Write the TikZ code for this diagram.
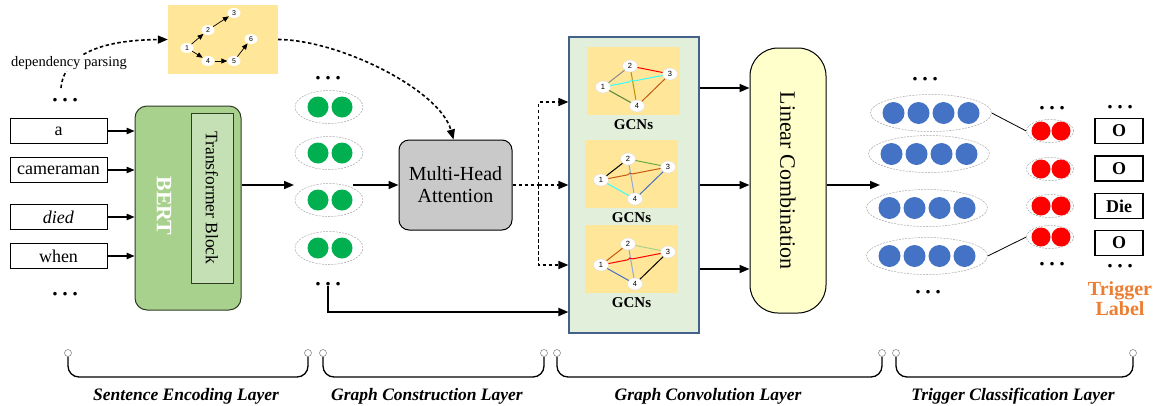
\documentclass[tikz,border=0pt]{standalone}
\usepackage{fontspec}
\setmainfont{Liberation Serif}
\newfontfamily\sansf{Liberation Sans}
\usetikzlibrary{arrows.meta,shapes.geometric,calc}

\newcommand{\setfs}[1]{\fontsize{#1}{#1}\selectfont}

\definecolor{depbg}{HTML}{FFE699}
\definecolor{bertfill}{HTML}{A9D18E}
\definecolor{tbfill}{HTML}{C5E0B4}
\definecolor{bertline}{HTML}{2E3B25}
\definecolor{mhafill}{HTML}{C9C9C9}
\definecolor{gcnfill}{HTML}{E2EFDA}
\definecolor{gcnline}{HTML}{44618C}
\definecolor{lcfill}{HTML}{FFFFCC}
\definecolor{dotgreen}{HTML}{00B050}
\definecolor{dotblue}{HTML}{4472C4}
\definecolor{dotred}{HTML}{FF0000}
\definecolor{trigorange}{HTML}{ED7D31}
\definecolor{egray}{HTML}{A6A6A6}
\definecolor{cgray}{HTML}{8C8C8C}
\definecolor{cmid}{HTML}{8C8C8C}
\definecolor{ccyan}{HTML}{33FFFF}
\definecolor{cgold}{HTML}{BF9000}
\definecolor{cdgreen}{HTML}{548235}
\definecolor{cbrown}{HTML}{C55A11}
\definecolor{clgreen}{HTML}{70AD47}
\definecolor{cpale}{HTML}{A9D18E}
\definecolor{clblue}{HTML}{8FAADC}
\definecolor{cblue}{HTML}{4472C4}

\tikzset{
 wordbox/.style={draw, line width=0.9pt, minimum width=97pt, minimum height=25pt, inner sep=0pt, font=\setfs{18}},
 arr/.style={line width=1.7pt, -{Triangle[length=10pt,width=8pt]}},
 sarr/.style={line width=1.1pt, -{Triangle[length=8pt,width=6.5pt]}},
 dsh/.style={line width=1.6pt, dash pattern=on 3.5pt off 2.5pt},
 dsharr/.style={dsh, -{Triangle[length=10pt,width=8pt]}},
 dotrow/.style={font=\setfs{30}, inner sep=0pt, anchor=base},
 gell/.style={ellipse, draw=egray, line width=0.5pt, dash pattern=on 2pt off 1.2pt, minimum width=68pt, minimum height=33pt, inner sep=0pt},
 gdot/.style={circle, fill=dotgreen, minimum size=21pt, inner sep=0pt},
 bell/.style={gell, minimum width=121pt, minimum height=37pt},
 bdot/.style={circle, fill=dotblue, minimum size=22pt, inner sep=0pt},
 rell/.style={gell, minimum width=47pt, minimum height=23pt},
 rdot/.style={circle, fill=dotred, minimum size=19pt, inner sep=0pt},
 labbox/.style={draw, line width=1.1pt, minimum width=48pt, minimum height=25pt, inner sep=0pt, font=\bfseries\setfs{18}},
 dnode/.style={ellipse, fill=white, minimum width=13pt, minimum height=10pt, inner sep=0pt, font=\sansf\setfs{7}},
 darr/.style={line width=0.7pt, -{Triangle[length=6pt,width=5pt]}},
 gbox/.style={fill=depbg, minimum width=93pt, minimum height=68pt, inner sep=0pt},
 gnode/.style={ellipse, fill=white, draw=white!85!black, line width=0.3pt, minimum width=15pt, minimum height=12pt, inner sep=0pt, font=\sansf\setfs{7.5}},
 gedge/.style={line width=1pt},
 gcnlabel/.style={font=\bfseries\setfs{15}, inner sep=0pt},
 endcirc/.style={circle, draw=cgray, fill=white, line width=0.6pt, minimum size=7pt, inner sep=0pt},
 brace/.style={line width=1.3pt, rounded corners=11pt},
 layertxt/.style={font=\bfseries\itshape\setfs{17.5}, anchor=base, inner sep=0pt},
}

% prefix, shift, c12, c23, c13, c24, c14, c34
\newcommand{\gcngraph}[8]{%
 \begin{scope}[shift={(#2)}]
  \node[gbox] (#1box) at (46.5,34) {};
  \node[gnode] (#1n1) at (16,40) {1};
  \node[gnode] (#1n2) at (43,19) {2};
  \node[gnode] (#1n3) at (83,27) {3};
  \node[gnode] (#1n4) at (50,59) {4};
  \node[gcnlabel] (#1lab) at (46.5,78) {GCNs};
 \end{scope}
 \draw[gedge,#3] (#1n1) -- (#1n2);
 \draw[gedge,#4] (#1n2) -- (#1n3);
 \draw[gedge,#6] (#1n2) -- (#1n4);
 \draw[gedge,#7] (#1n1) -- (#1n4);
 \draw[gedge,#8] (#1n3) -- (#1n4);
 \draw[gedge,#5] (#1n1) -- ($(#1n1)!0.40!(#1n3)$) to[bend left=70] ($(#1n1)!0.47!(#1n3)$) -- (#1n3);
}

\begin{document}
\begin{tikzpicture}[x=1pt,y=-1pt]
\path[fill=white, use as bounding box] (0,0) rectangle (1157,405);

% ---------- dependency graph ----------
\node[fill=depbg, minimum width=110pt, minimum height=69pt, inner sep=0pt] (dep) at (223,39.5) {};
\node[dnode] (d1) at (187,48) {1};
\node[dnode] (d2) at (208,30) {2};
\node[dnode] (d3) at (234,13) {3};
\node[dnode] (d4) at (208,61) {4};
\node[dnode] (d5) at (234,61) {5};
\node[dnode] (d6) at (251,39) {6};
\draw[darr] (d1) -- (d2);
\draw[darr] (d2) -- (d3);
\draw[darr] (d1) -- (d4);
\draw[darr] (d4) -- (d5);
\draw[darr] (d5) -- (d6);

% ---------- words ----------
\node[dotrow] (wtop) at (65,101.5) {…};
\node[wordbox] (w1) at (58.5,131) {a};
\node[wordbox] (w2) at (58.5,170) {cameraman};
\node[wordbox] (w3) at (58.5,217) {\textit{died}};
\node[wordbox] (w4) at (58.5,256) {when};
\node[dotrow] (wbot) at (65,295) {…};

\coordinate (dpstart) at (61,88);
\draw[dsharr] (dpstart) .. controls (64,55) and (100,40) .. (dep.west);
\node[fill=white, inner sep=1pt, font=\setfs{14.5}] (dptext) at (69,63) {dependency parsing};

% ---------- BERT ----------
\node[draw=bertline, fill=bertfill, rounded corners=12pt, line width=1pt, minimum width=106pt, minimum height=204pt, inner sep=0pt] (bert) at (188,208) {};
\node[draw=bertline, fill=tbfill, line width=1pt, minimum width=42pt, minimum height=170pt, inner sep=0pt] (tb) at (212,198) {};
\node[rotate=-90, font=\setfs{17.5}] (tbtext) at (tb) {Transformer Block};
\node[rotate=-90, text=white, font=\bfseries\setfs{22}] (berttext) at (164,206) {BERT};
\foreach \w in {w1,w2,w3,w4} \draw[sarr] (\w.east) -- (bert.west |- \w.east);

\coordinate (gin) at (294,185);
\draw[arr] (bert.east |- gin) -- (gin);

% ---------- green column ----------
\node[dotrow] (gtop) at (328,79.5) {…};
\foreach \i/\y in {1/107,2/153,3/200,4/248} {
  \node[gell] (ge\i) at (329,\y) {};
  \node[gdot] (ge\i a) at (318,\y) {};
  \node[gdot] (ge\i b) at (342,\y) {};
}
\node[dotrow] (gbot) at (328,285.5) {…};

% ---------- Multi-Head Attention ----------
\node[draw, fill=mhafill, rounded corners=10pt, line width=1pt, minimum width=113pt, minimum height=90pt, align=center, font=\fontsize{20}{22}\selectfont] (mha) at (455.5,185) {Multi-Head\\Attention};
\coordinate (gout) at (353,185);
\draw[arr] (gout) -- (mha.west);
\draw[dsharr] (dep.east) .. controls (340,40) and (440,90) .. ([xshift=-2pt]mha.north);

% ---------- GCN block ----------
\node[draw=gcnline, fill=gcnfill, line width=1.2pt, minimum width=130pt, minimum height=296pt, inner sep=0pt] (gcnbox) at (634,185) {};
\gcngraph{ga}{587,47}{cmid}{red}{ccyan}{cgold}{cdgreen}{cbrown}
\gcngraph{gb}{585,140}{black}{clgreen}{cbrown}{clblue}{ccyan}{cblue}
\gcngraph{gc}{585,225}{cbrown}{cpale}{red}{clblue}{cblue}{black}

\draw[dsh] (mha.east) -- ++(26,0) coordinate (split);
\draw[dsharr] (split) |- (gcnbox.west |- 0,102);
\draw[dsharr] (split) -- (gcnbox.west |- split);
\draw[dsharr] (split) |- (gcnbox.west |- 0,265);

\draw[arr, line width=2pt] (gbot.south) -- (gbot.south |- 0,312) -- (gcnbox.west |- 0,312);

% ---------- Linear Combination ----------
\node[draw, fill=lcfill, rounded corners=28pt, line width=1pt, minimum width=76pt, minimum height=265pt, inner sep=0pt] (lc) at (788,180.5) {};
\node[rotate=-90, font=\setfs{22}] (lctext) at (lc) {Linear Combination};
\foreach \y in {88,185,269} \draw[arr] (gcnbox.east |- 0,\y) -- (lc.west |- 0,\y);
\coordinate (bin) at (880,185);
\draw[arr] (lc.east |- bin) -- (bin);

% ---------- blue column ----------
\node[dotrow] (btop) at (925,80.5) {…};
\foreach \i/\x/\y in {1/931/113,2/929/154,3/927/208,4/927/256} {
  \node[bell] (be\i) at (\x,\y) {};
  \foreach \d [count=\k] in {-37.5,-12.5,12.5,37.5} \node[bdot] (be\i d\k) at ({\x+\d},\y) {};
}
\node[dotrow] (bbot) at (928,293.5) {…};

% ---------- red column ----------
\node[dotrow] (rtop) at (1052,109.5) {…};
\foreach \i/\y in {1/131,2/169,3/206,4/237} {
  \node[rell] (re\i) at (1050,\y) {};
  \node[rdot] (re\i a) at (1041,\y) {};
  \node[rdot] (re\i b) at (1061,\y) {};
}
\node[dotrow] (rbot) at (1052,265.5) {…};
\draw[line width=0.8pt] (be1.east) -- (re1.west);
\draw[line width=0.8pt] (be4.east) -- (re4.west);

% ---------- labels ----------
\node[dotrow] (ltop) at (1120,108.5) {…};
\node[labbox] (l1) at (1119,131) {O};
\node[labbox] (l2) at (1119,168.5) {O};
\node[labbox] (l3) at (1119,206) {Die};
\node[labbox] (l4) at (1119,243) {O};
\node[dotrow] (lbot) at (1120,267) {…};
\node[align=center, text=trigorange, font=\bfseries\fontsize{20}{20}\selectfont] (trig) at (1120,299) {Trigger\\Label};

% ---------- layer braces ----------
\foreach \n/\a/\b in {1/68/308,2/323/544,3/557/882,4/896/1133} {
  \node[endcirc] (bl\n) at (\a,353) {};
  \node[endcirc] (br\n) at (\b,353) {};
  \draw[brace] (bl\n.south) -- (bl\n.south |- 0,377) -- (br\n.south |- 0,377) -- (br\n.south);
}
\node[layertxt] (t1) at (186,400) {Sentence Encoding Layer};
\node[layertxt] (t2) at (427,400) {Graph Construction Layer};
\node[layertxt] (t3) at (708,400) {Graph Convolution Layer};
\node[layertxt] (t4) at (1013,400) {Trigger Classification Layer};
\end{tikzpicture}
\end{document}
